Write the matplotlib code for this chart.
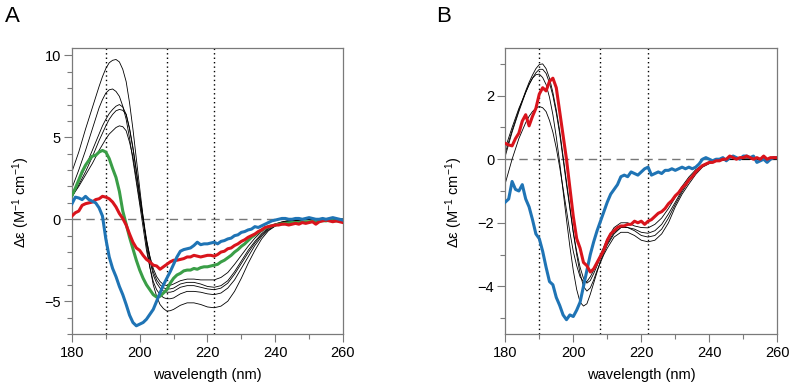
import numpy as np
import matplotlib
matplotlib.use("Agg")
import matplotlib.pyplot as plt
from matplotlib.ticker import MultipleLocator

plt.rcParams['font.family'] = ['Liberation Sans', 'DejaVu Sans']
plt.rcParams['mathtext.fontset'] = 'custom'
plt.rcParams['mathtext.rm'] = 'Liberation Sans'
plt.rcParams['mathtext.it'] = 'Liberation Sans:italic'

# ---------------- data ----------------
wl_fine = np.arange(180, 261, 1)      # coloured (measured) spectra
# thin black (reference) spectra: 2 nm steps, 1 nm steps 186-210 nm
wl_black = ([180, 182, 184]
            + list(range(186, 211, 1))
            + list(range(212, 261, 2)))
ref_wl = [190, 208, 222]

# Panel A - thin black spectra
A_black1 = ([2.9, 4.1, 5.5]
            + [6.8, 7.45, 8.1, 8.7, 9.2, 9.55, 9.7, 9.75, 9.6, 9.15,
               8.4, 7.1, 5.5, 3.7, 1.9, 0.15, -1.6, -2.9, -4.0, -4.7,
               -5.2, -5.45, -5.6, -5.58, -5.5]
            + [-5.25, -5.1, -5.1, -5.2, -5.35, -5.4, -5.3, -5.0, -4.4, -3.6,
               -2.7, -1.9, -1.2, -0.7, -0.42, -0.25, -0.15, -0.08, -0.04, -0.02,
               0, 0, 0, 0, 0])
A_black2 = ([1.9, 3.0, 4.2]
            + [5.5, 6.15, 6.8, 7.3, 7.7, 7.9, 7.95, 7.8, 7.5, 6.9,
               6.1, 4.95, 3.6, 2.25, 0.9, -0.5, -1.9, -2.95, -3.8, -4.3,
               -4.6, -4.78, -4.85, -4.85, -4.8]
            + [-4.55, -4.4, -4.4, -4.45, -4.55, -4.6, -4.5, -4.2, -3.7, -3.0,
               -2.3, -1.6, -1.05, -0.65, -0.4, -0.22, -0.12, -0.06, -0.03, -0.01,
               0, 0, 0, 0, 0])
A_black3 = ([1.5, 2.3, 3.2]
            + [4.2, 4.7, 5.2, 5.7, 6.1, 6.45, 6.7, 6.9, 7.0, 6.85,
               6.4, 5.5, 4.3, 2.9, 1.4, 0.0, -1.4, -2.5, -3.4, -3.9,
               -4.2, -4.38, -4.45, -4.45, -4.4]
            + [-4.15, -4.05, -4.05, -4.15, -4.25, -4.3, -4.2, -3.9, -3.35, -2.7,
               -2.05, -1.45, -0.95, -0.58, -0.34, -0.2, -0.1, -0.05, -0.02, 0,
               0, 0, 0, 0, 0])
A_black4 = ([1.35, 2.1, 2.9]
            + [3.8, 4.3, 4.8, 5.25, 5.7, 6.1, 6.4, 6.62, 6.7, 6.65,
               6.4, 5.55, 4.4, 3.0, 1.5, 0.15, -1.2, -2.3, -3.2, -3.7,
               -4.0, -4.18, -4.25, -4.25, -4.2]
            + [-3.95, -3.85, -3.85, -3.95, -4.1, -4.15, -4.05, -3.75, -3.2, -2.55,
               -1.9, -1.35, -0.88, -0.52, -0.3, -0.17, -0.09, -0.04, -0.02, 0,
               0, 0, 0, 0, 0])
A_black5 = ([1.4, 2.0, 2.7]
            + [3.4, 3.8, 4.2, 4.55, 4.9, 5.2, 5.4, 5.6, 5.7, 5.65,
               5.4, 4.7, 3.8, 2.5, 1.1, -0.1, -1.3, -2.25, -3.0, -3.5,
               -3.8, -3.98, -4.05, -4.03, -3.95]
            + [-3.75, -3.65, -3.65, -3.7, -3.7, -3.7, -3.55, -3.25, -2.75, -2.2,
               -1.65, -1.15, -0.75, -0.47, -0.28, -0.16, -0.08, -0.04, -0.02, 0,
               0, 0, 0, 0, 0])

# Panel A - coloured spectra (180..260 nm, 1 nm)
A_green = [1.45, 1.9, 2.4, 2.9, 3.3, 3.6, 3.85, 3.9, 4.1, 4.2,
           4.1, 3.7, 3.1, 2.55, 1.7, 0.5, -0.3, -1.1, -1.8, -2.5,
           -3.1, -3.6, -4.0, -4.3, -4.6, -4.75, -4.7, -4.5, -4.3, -3.9,
           -3.6, -3.4, -3.3, -3.15, -3.1, -3.1, -3.0, -3.05, -2.95, -2.9,
           -2.9, -2.85, -2.8, -2.75, -2.6, -2.5, -2.35, -2.2, -2.0, -1.85,
           -1.65, -1.5, -1.3, -1.1, -0.95, -0.8, -0.65, -0.55, -0.45, -0.4,
           -0.35, -0.3, -0.28, -0.25, -0.22, -0.2, -0.2, -0.2, -0.18, -0.15,
           -0.15, -0.12, -0.15, -0.1, -0.08, -0.1, -0.05, -0.08, -0.1, -0.08,
           -0.1]
A_red = [0.2, 0.4, 0.5, 0.85, 0.95, 1.0, 1.05, 1.2, 1.25, 1.4,
         1.35, 1.25, 1.05, 0.75, 0.35, 0.05, -0.35, -0.9, -1.4, -1.75,
         -1.9, -2.2, -2.45, -2.6, -2.8, -2.85, -3.05, -2.9, -2.75, -2.6,
         -2.5, -2.5, -2.45, -2.4, -2.3, -2.3, -2.2, -2.25, -2.3, -2.25,
         -2.2, -2.2, -2.25, -2.15, -2.0, -1.95, -1.8, -1.75, -1.6, -1.5,
         -1.35, -1.25, -1.1, -1.0, -0.9, -0.75, -0.65, -0.5, -0.45, -0.4,
         -0.35, -0.35, -0.3, -0.3, -0.35, -0.3, -0.25, -0.3, -0.2, -0.25,
         -0.2, -0.15, -0.3, -0.15, -0.1, -0.05, -0.1, -0.15, -0.1, -0.15,
         -0.2]
A_blue = [0.95, 1.35, 1.3, 1.2, 1.4, 1.2, 1.1, 1.0, 0.7, 0.2,
          -1.2, -2.3, -3.0, -3.5, -4.1, -4.6, -5.2, -5.85, -6.3, -6.5,
          -6.4, -6.3, -6.1, -5.8, -5.5, -5.0, -4.5, -4.0, -3.6, -3.2,
          -2.75, -2.3, -1.95, -1.85, -1.8, -1.75, -1.6, -1.4, -1.55, -1.5,
          -1.5, -1.45, -1.4, -1.5, -1.35, -1.3, -1.2, -1.15, -1.0, -0.95,
          -0.8, -0.75, -0.65, -0.6, -0.45, -0.5, -0.4, -0.3, -0.2, -0.1,
          -0.05, 0.0, 0.05, 0.05, 0.0, 0.0, 0.05, 0.05, 0.0, 0.05,
          0.1, 0.05, 0.0, 0.0, 0.05, 0.0, 0.05, 0.1, 0.05, 0.0,
          -0.05]

# Panel B - thin black spectra
B_black1 = ([0.2, 0.9, 1.55]
            + [2.15, 2.42, 2.65, 2.85, 2.98, 3.0, 2.85, 2.55, 2.1, 1.55,
               0.9, 0.1, -0.7, -1.5, -2.3, -3.0, -3.6, -4.0, -4.15, -4.05,
               -3.8, -3.5, -3.25, -3.0, -2.8]
            + [-2.45, -2.3, -2.3, -2.4, -2.55, -2.6, -2.55, -2.35, -2.0, -1.5,
               -1.1, -0.78, -0.48, -0.25, -0.14, -0.07, -0.03, -0.01, 0, 0,
               0, 0, 0, 0, 0])
B_black2 = ([0.35, 1.0, 1.6]
            + [2.1, 2.35, 2.55, 2.72, 2.83, 2.83, 2.7, 2.4, 2.0, 1.45,
               0.8, 0.0, -0.8, -1.55, -2.3, -2.9, -3.4, -3.75, -3.9, -3.82,
               -3.6, -3.35, -3.1, -2.85, -2.65]
            + [-2.3, -2.15, -2.15, -2.25, -2.4, -2.45, -2.4, -2.2, -1.85, -1.42,
               -1.03, -0.7, -0.42, -0.22, -0.12, -0.06, -0.03, -0.01, 0, 0,
               0, 0, 0, 0, 0])
B_black3 = ([0.1, 0.85, 1.5]
            + [2.1, 2.35, 2.55, 2.66, 2.68, 2.57, 2.35, 1.95, 1.4, 0.7,
               -0.1, -1.0, -1.9, -2.75, -3.5, -4.1, -4.5, -4.62, -4.55, -4.25,
               -3.9, -3.55, -3.2, -2.95, -2.7]
            + [-2.35, -2.15, -2.15, -2.2, -2.3, -2.33, -2.25, -2.05, -1.72, -1.35,
               -0.97, -0.64, -0.38, -0.2, -0.1, -0.05, -0.02, -0.01, 0, 0,
               0, 0, 0, 0, 0])
B_black4 = ([-0.76, 0.0, 0.65]
            + [1.15, 1.35, 1.5, 1.6, 1.66, 1.62, 1.5, 1.22, 0.85, 0.35,
               -0.25, -0.92, -1.6, -2.3, -2.9, -3.35, -3.7, -3.85, -3.85, -3.7,
               -3.5, -3.25, -3.0, -2.75, -2.5]
            + [-2.15, -2.0, -2.0, -2.1, -2.15, -2.16, -2.05, -1.85, -1.55, -1.2,
               -0.85, -0.56, -0.33, -0.18, -0.1, -0.05, -0.02, -0.01, 0, 0,
               0, 0, 0, 0, 0])

# Panel B - coloured spectra (180..260 nm, 1 nm)
B_red = [0.5, 0.45, 0.42, 0.65, 0.82, 1.2, 1.4, 1.05, 1.35, 1.6,
         2.05, 2.25, 2.15, 2.45, 2.55, 2.25, 1.5, 0.75, 0.0, -0.9,
         -1.8, -2.5, -2.8, -3.25, -3.35, -3.55, -3.45, -3.25, -3.05, -2.85,
         -2.55, -2.35, -2.25, -2.15, -2.1, -2.1, -2.05, -2.05, -1.95, -2.0,
         -1.95, -2.05, -1.95, -1.9, -1.8, -1.7, -1.65, -1.55, -1.4, -1.3,
         -1.15, -1.05, -0.9, -0.8, -0.65, -0.55, -0.4, -0.3, -0.2, -0.15,
         -0.1, -0.1, -0.05, -0.05, 0.0, 0.0, 0.1, 0.05, 0.0, 0.05,
         0.05, 0.1, 0.05, 0.0, 0.05, 0.0, 0.1, 0.0, 0.05, 0.05,
         0.05]
B_blue = [-1.35, -1.25, -0.7, -0.95, -1.0, -0.8, -1.25, -1.5, -1.9, -2.35,
          -2.5, -2.9, -3.4, -3.85, -3.95, -4.35, -4.6, -4.9, -5.05, -4.9,
          -4.95, -4.75, -4.5, -4.0, -3.5, -3.0, -2.6, -2.25, -1.95, -1.65,
          -1.35, -1.1, -0.95, -0.8, -0.55, -0.5, -0.55, -0.4, -0.45, -0.5,
          -0.4, -0.3, -0.25, -0.5, -0.45, -0.4, -0.45, -0.35, -0.35, -0.3,
          -0.35, -0.3, -0.25, -0.3, -0.25, -0.3, -0.25, -0.15, 0.0, 0.05,
          0.0, -0.05, 0.0, 0.0, 0.05, -0.05, 0.05, 0.1, 0.05, 0.0,
          0.1, 0.1, 0.05, 0.1, -0.1, -0.05, 0.0, -0.1, 0.0, 0.05,
          0.05]

# ---------------- styling ----------------
BLUE = '#1f74b5'
RED = '#d9141c'
GREEN = '#3a9e47'
SPINE = '#7a7a7a'

fig = plt.figure(figsize=(7.9, 3.85), dpi=100)
axA = fig.add_axes([0.0911, 0.1325, 0.3430, 0.7428])
axB = fig.add_axes([0.6396, 0.1325, 0.3443, 0.7428])


def style(ax, ylim, ymaj):
    ax.set_xlim(180, 260)
    ax.set_ylim(*ylim)
    ax.xaxis.set_major_locator(MultipleLocator(20))
    ax.xaxis.set_minor_locator(MultipleLocator(10))
    ax.yaxis.set_major_locator(MultipleLocator(ymaj))
    ax.yaxis.set_minor_locator(MultipleLocator(1))
    ax.tick_params(which='major', direction='out', length=6, width=0.8,
                   color=SPINE, labelsize=10.5, pad=2)
    ax.tick_params(which='minor', direction='out', length=3.5, width=0.8,
                   color=SPINE)
    ax.tick_params(axis='x', which='major', pad=3)
    for s in ax.spines.values():
        s.set_color(SPINE)
        s.set_linewidth(0.9)
    for w in ref_wl:
        ax.axvline(w, color='black', lw=1.0, ls=(0, (1, 2.2)), zorder=1)
    ax.axhline(0, color='#777777', lw=1.0, ls=(0, (6, 4)), zorder=1)
    ax.set_xlabel('wavelength (nm)', fontsize=10.5)
    ax.set_ylabel('Δε (M$^{-1}$ cm$^{-1}$)', fontsize=10.5)
    ax.xaxis.set_label_coords(0.5, -0.118)
    ax.yaxis.set_label_coords(-0.148, 0.46)


style(axA, (-7.0, 10.45), 5)
style(axB, (-5.5, 3.5), 2)

for yb in [A_black1, A_black2, A_black3, A_black4, A_black5]:
    axA.plot(wl_black, yb, color='black', lw=0.6, zorder=2)
axA.plot(wl_fine, A_green, color=GREEN, lw=2.2, zorder=3)
axA.plot(wl_fine, A_red, color=RED, lw=2.2, zorder=4)
axA.plot(wl_fine, A_blue, color=BLUE, lw=2.2, zorder=5)

for yb in [B_black1, B_black2, B_black3, B_black4]:
    axB.plot(wl_black, yb, color='black', lw=0.6, zorder=2)
axB.plot(wl_fine, B_blue, color=BLUE, lw=2.2, zorder=4)
axB.plot(wl_fine, B_red, color=RED, lw=2.2, zorder=5)

fig.text(0.006, 0.985, 'A', fontsize=16, va='top', ha='left')
fig.text(0.552, 0.985, 'B', fontsize=16, va='top', ha='left')

fig.savefig('out.png', dpi=100)
